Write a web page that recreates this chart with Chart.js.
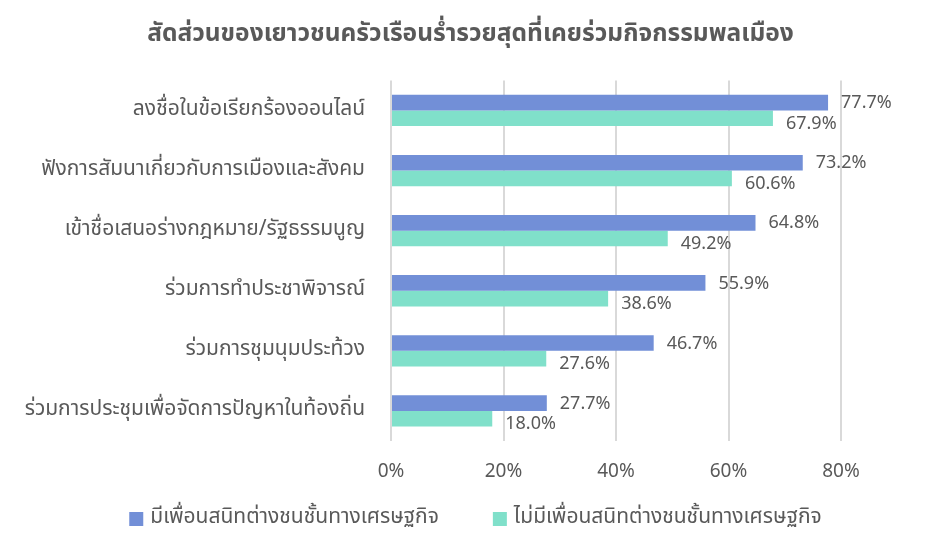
<!DOCTYPE html>
<html>
<head>
<meta charset="utf-8">
<script src="https://cdn.jsdelivr.net/npm/chart.js@4"></script>
<style>
  html, body { margin: 0; padding: 0; background: #fff; }
  #wrap { width: 941px; height: 555px; }
</style>
</head>
<body>
<div id="wrap"><canvas id="chart" width="941" height="555"></canvas></div>
<script>
// --- Data ---
const categories = [
    'ลงชื่อในข้อเรียกร้องออนไลน์',
    'ฟังการสัมนาเกี่ยวกับการเมืองและสังคม',
    'เข้าชื่อเสนอร่างกฎหมาย/รัฐธรรมนูญ',
    'ร่วมการทำประชาพิจารณ์',
    'ร่วมการชุมนุมประท้วง',
    'ร่วมการประชุมเพื่อจัดการปัญหาในท้องถิ่น'
];
const withRichFriends = [77.7, 73.2, 64.8, 55.9, 46.7, 27.7];
const withoutRichFriends = [67.9, 60.6, 49.2, 38.6, 27.6, 18.0];
const seriesNames = ['มีเพื่อนสนิทต่างชนชั้นทางเศรษฐกิจ', 'ไม่มีเพื่อนสนิทต่างชนชั้นทางเศรษฐกิจ'];
const seriesColors = ['#728fd7', '#80e0ca'];
const xTicks = [0, 20, 40, 60, 80];
const titleText = 'สัดส่วนของเยาวชนครัวเรือนร่ำรวยสุดที่เคยร่วมกิจกรรมพลเมือง';

const FONT = "'Noto Sans Thai', 'Noto Sans', sans-serif";
const TEXT = '#595959';

// value labels at the end of each bar
const barLabels = {
    id: 'barLabels',
    afterDatasetsDraw(chart) {
        const ctx = chart.ctx;
        ctx.save();
        ctx.font = `18px ${FONT}`;
        ctx.fillStyle = TEXT;
        ctx.textAlign = 'left';
        ctx.textBaseline = 'middle';
        chart.data.datasets.forEach((ds, di) => {
            chart.getDatasetMeta(di).data.forEach((bar, i) => {
                const dy = di === 0 ? 2 : 7;
                ctx.fillText(ds.data[i].toFixed(1) + '%', bar.x + 13, bar.y + dy);
            });
        });
        ctx.restore();
    }
};

// legend drawn by hand so the gap between the two entries matches
const bottomLegend = {
    id: 'bottomLegend',
    afterDraw(chart) {
        const ctx = chart.ctx;
        ctx.save();
        ctx.font = `21px ${FONT}`;
        ctx.textBaseline = 'middle';
        const box = 14, gapText = 7, gapItem = 54, y = 519;
        const widths = seriesNames.map(n => ctx.measureText(n).width);
        const total = widths.reduce((a, w) => a + box + gapText + w, 0) + gapItem;
        let x = (chart.width - total) / 2 + 5;
        seriesNames.forEach((name, i) => {
            ctx.fillStyle = seriesColors[i];
            ctx.fillRect(x, y - box / 2, box, box);
            ctx.fillStyle = TEXT;
            ctx.fillText(name, x + box + gapText, y);
            x += box + gapText + widths[i] + gapItem;
        });
        ctx.restore();
    }
};

const ctx = document.getElementById('chart').getContext('2d');
new Chart(ctx, {
    type: 'bar',
    data: {
        labels: categories,
        datasets: [{
            label: seriesNames[0],
            data: withRichFriends,
            backgroundColor: seriesColors[0],
            categoryPercentage: 0.52,
            barPercentage: 1
        }, {
            label: seriesNames[1],
            data: withoutRichFriends,
            backgroundColor: seriesColors[1],
            categoryPercentage: 0.52,
            barPercentage: 1
        }]
    },
    options: {
        indexAxis: 'y',
        responsive: false,
        animation: false,
        layout: { padding: { left: 0, right: 0, top: 0, bottom: 62 } },
        scales: {
            x: {
                min: 0,
                max: 80,
                afterBuildTicks: (scale) => { scale.ticks = xTicks.map(v => ({ value: v })); },
                afterFit: (scale) => { scale.height = 52; },
                ticks: {
                    color: TEXT,
                    font: { family: FONT, size: 19 },
                    padding: 21,
                    callback: (v) => v + '%'
                },
                grid: { color: '#d9d9d9', lineWidth: 2, drawTicks: false },
                border: { display: false }
            },
            y: {
                afterFit: (scale) => { scale.width = 391; },
                ticks: {
                    color: TEXT,
                    font: { family: FONT, size: 21 },
                    padding: 18
                },
                grid: { display: false },
                border: { display: false }
            },
            // empty right-hand axis keeps room for the value labels
            yRight: {
                type: 'category',
                position: 'right',
                afterFit: (scale) => { scale.width = 100; },
                ticks: { display: false },
                grid: { display: false },
                border: { display: false }
            }
        },
        plugins: {
            title: {
                display: true,
                text: titleText,
                color: TEXT,
                font: { family: FONT, size: 24.5, weight: 'bold' },
                padding: { top: 21, bottom: 30 }
            },
            legend: { display: false },
            tooltip: { enabled: false }
        }
    },
    plugins: [barLabels, bottomLegend]
});
</script>
</body>
</html>
